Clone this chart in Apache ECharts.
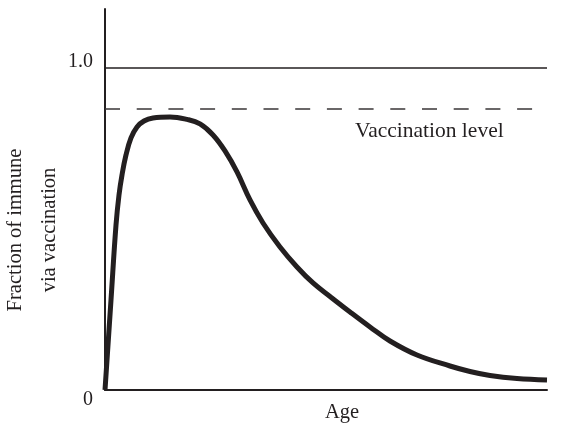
<!DOCTYPE html>
<html>
<head>
<meta charset="utf-8">
<script src="https://cdn.jsdelivr.net/npm/echarts@6/dist/echarts.min.js"></script>
<style>html,body{margin:0;padding:0;background:#fff}#c{width:571px;height:429px}</style>
</head>
<body>
<div id="c"></div>
<script>
// Data
var ages = [0, 1.357, 2.489, 3.167, 3.846, 4.751, 5.882, 7.24, 8.824, 10.86, 14.706, 18.552, 21.493, 24.434, 27.149, 29.864, 32.805, 35.747, 39.593, 43.439, 47.059, 50.905, 55.43, 59.955, 64.48, 70.588, 78.054, 82.579, 87.104, 93.213, 100];
var fractions = [0, 0.2795, 0.5124, 0.6056, 0.6677, 0.7298, 0.7826, 0.8168, 0.8354, 0.8447, 0.8478, 0.8401, 0.8261, 0.7919, 0.7422, 0.677, 0.5901, 0.5186, 0.4441, 0.382, 0.3323, 0.2904, 0.2422, 0.1957, 0.1522, 0.1087, 0.0745, 0.0574, 0.045, 0.0357, 0.0311];
var fullImmunity = 1.0;
var vaccinationLevel = 0.874;
var vaccinationLineEnd = 96.8;
var yTickValues = [0, 1];
var yTickLabels = {0: '0', 1: '1.0'};
var xName = 'Age';
var yName = 'Fraction of immune\nvia vaccination';
var levelLabel = 'Vaccination level';

var ink = '#231f20';
var font = '"Liberation Serif", "Times New Roman", serif';
var chart = echarts.init(document.getElementById('c'), null, {renderer: 'canvas'});
var pts = ages.map(function (a, i) { return [a, fractions[i]]; });

chart.setOption({
  animation: false,
  backgroundColor: '#fff',
  grid: {left: 105, right: 24, top: 9, bottom: 39, containLabel: false},
  xAxis: {
    type: 'value', min: 0, max: 100,
    axisLine: {show: true, lineStyle: {color: ink, width: 2}},
    axisTick: {show: false}, axisLabel: {show: false}, splitLine: {show: false}
  },
  yAxis: {
    type: 'value', min: 0, max: 1.183,
    axisLine: {show: true, lineStyle: {color: ink, width: 2}},
    axisTick: {show: false}, splitLine: {show: false},
    axisLabel: {
      show: true, customValues: yTickValues, margin: 12,
      color: ink, fontFamily: font, fontSize: 20,
      formatter: function (v) { return v === 1 ? '{a|' + yTickLabels[1] + '}' : '{b|' + yTickLabels[0] + '}'; },
      rich: {
        a: {fontFamily: font, fontSize: 20, color: ink, padding: [0, 0, 12, 0]},
        b: {fontFamily: font, fontSize: 20, color: ink, padding: [20, 0, 0, 0]}
      }
    }
  },
  graphic: [
    {type: 'text', x: 33, y: 230, rotation: Math.PI / 2,
      style: {text: yName, fill: ink, font: '20.5px ' + font, textAlign: 'center', textVerticalAlign: 'middle', lineHeight: 34}},
    {type: 'text', x: 342, y: 413,
      style: {text: xName, fill: ink, font: '20.5px ' + font, textAlign: 'center', textVerticalAlign: 'middle'}},
    {type: 'text', x: 355, y: 131,
      style: {text: levelLabel, fill: ink, font: '21.5px ' + font, textAlign: 'left', textVerticalAlign: 'middle'}}
  ],
  series: [{
    type: 'line',
    data: pts,
    smooth: 0.4,
    symbol: 'none',
    silent: true,
    lineStyle: {color: ink, width: 5, join: 'round'},
    markLine: {
      silent: true, symbol: 'none', label: {show: false},
      data: [
        [{coord: [0, fullImmunity], lineStyle: {color: ink, width: 1.5, type: 'solid'}}, {coord: [100, fullImmunity]}],
        [{coord: [0, vaccinationLevel], lineStyle: {color: '#3a3637', width: 1.5, type: [15, 16.7]}}, {coord: [vaccinationLineEnd, vaccinationLevel]}]
      ]
    }
  }]
});
</script>
</body>
</html>
